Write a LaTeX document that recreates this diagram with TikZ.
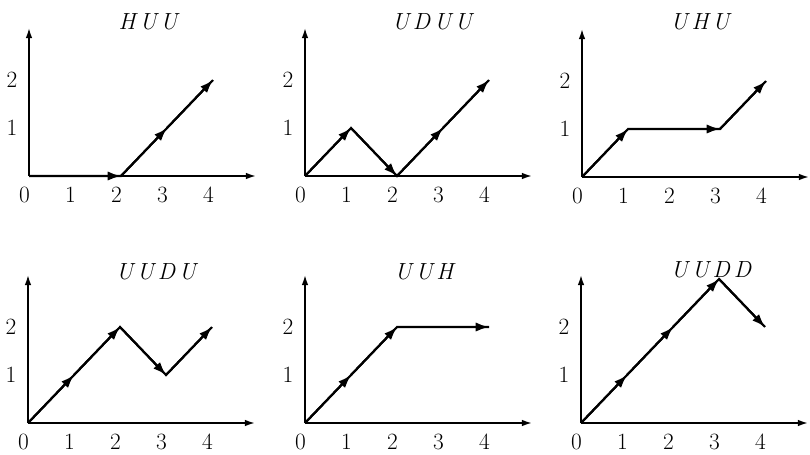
\documentclass[tikz,border=0pt]{standalone}
\usepackage{fontspec}
\usetikzlibrary{arrows.meta}
\tikzset{
  axis/.style={line width=1.1pt,-{Latex[length=7.5pt,width=5pt]}},
  pathline/.style={line width=1.6pt,line join=miter},
  seg/.style={line width=1.6pt,-{Latex[length=10pt,width=7pt]}},
  lab/.style={font=\fontsize{17.5}{20}\selectfont\addfontfeatures{FakeBold=2}, inner sep=0pt},
  ttl/.style={font=\fontsize{17.5}{20}\selectfont\itshape\addfontfeatures{FakeBold=2}, inner sep=0pt},
  unitgrid/.style={x=34.5pt,y=36pt}
}
\newcommand{\drawaxes}[1]{%
  \coordinate (#1o) at (0,0);
  \coordinate (#1xe) at (4.93,0);
  \coordinate (#1ye) at (0,3.08);
  \draw[axis] (#1o) -- (#1xe);
  \draw[axis] (#1o) -- (#1ye);
  \foreach \i in {0,...,4} {\node[lab] (#1x\i) at (\i-0.1,-0.39) {\i};}
  \foreach \j in {1,2} {\node[lab] (#1y\j) at (-0.37,\j) {\j};}
}
\begin{document}
\begin{tikzpicture}[x=0.75pt,y=-0.75pt]
\useasboundingbox (0,0) rectangle (810,454);
% Panel 1: HUU
\begin{scope}[shift={(29,176)},unitgrid]
  \drawaxes{a}
  \coordinate (a0) at (0,0);
  \coordinate (a1) at (2,0);
  \coordinate (a2) at (3,1);
  \coordinate (a3) at (4,2);
  \draw[pathline] (a0) -- (a1) -- (a2) -- (a3);
  \draw[seg] (a0) -- (a1);
  \draw[seg] (a1) -- (a2);
  \draw[seg] (a2) -- (a3);
\end{scope}
\node[ttl] (t1) at (148,22) {H\,U\,U};
% Panel 2: UDUU
\begin{scope}[shift={(305,176)},unitgrid]
  \drawaxes{b}
  \coordinate (b0) at (0,0);
  \coordinate (b1) at (1,1);
  \coordinate (b2) at (2,0);
  \coordinate (b3) at (3,1);
  \coordinate (b4) at (4,2);
  \draw[pathline] (b0) -- (b1) -- (b2) -- (b3) -- (b4);
  \draw[seg] (b0) -- (b1);
  \draw[seg] (b1) -- (b2);
  \draw[seg] (b2) -- (b3);
  \draw[seg] (b3) -- (b4);
\end{scope}
\node[ttl] (t2) at (432,22) {U\,D\,U\,U};
% Panel 3: UHU
\begin{scope}[shift={(582,177)},unitgrid]
  \drawaxes{c}
  \coordinate (c0) at (0,0);
  \coordinate (c1) at (1,1);
  \coordinate (c2) at (3,1);
  \coordinate (c3) at (4,2);
  \draw[pathline] (c0) -- (c1) -- (c2) -- (c3);
  \draw[seg] (c0) -- (c1);
  \draw[seg] (c1) -- (c2);
  \draw[seg] (c2) -- (c3);
\end{scope}
\node[ttl] (t3) at (700,22) {U\,H\,U};
% Panel 4: UUDU
\begin{scope}[shift={(28,423)},unitgrid]
  \drawaxes{d}
  \coordinate (d0) at (0,0);
  \coordinate (d1) at (1,1);
  \coordinate (d2) at (2,2);
  \coordinate (d3) at (3,1);
  \coordinate (d4) at (4,2);
  \draw[pathline] (d0) -- (d1) -- (d2) -- (d3) -- (d4);
  \draw[seg] (d0) -- (d1);
  \draw[seg] (d1) -- (d2);
  \draw[seg] (d2) -- (d3);
  \draw[seg] (d3) -- (d4);
\end{scope}
\node[ttl] (t4) at (156,272) {U\,U\,D\,U};
% Panel 5: UUH
\begin{scope}[shift={(305,423)},unitgrid]
  \drawaxes{e}
  \coordinate (e0) at (0,0);
  \coordinate (e1) at (1,1);
  \coordinate (e2) at (2,2);
  \coordinate (e3) at (4,2);
  \draw[pathline] (e0) -- (e1) -- (e2) -- (e3);
  \draw[seg] (e0) -- (e1);
  \draw[seg] (e1) -- (e2);
  \draw[seg] (e2) -- (e3);
\end{scope}
\node[ttl] (t5) at (424,272) {U\,U\,H};
% Panel 6: UUDD
\begin{scope}[shift={(581,423)},unitgrid]
  \drawaxes{f}
  \coordinate (f0) at (0,0);
  \coordinate (f1) at (1,1);
  \coordinate (f2) at (2,2);
  \coordinate (f3) at (3,3);
  \coordinate (f4) at (4,2);
  \draw[pathline] (f0) -- (f1) -- (f2) -- (f3) -- (f4);
  \draw[seg] (f0) -- (f1);
  \draw[seg] (f1) -- (f2);
  \draw[seg] (f2) -- (f3);
  \draw[seg] (f3) -- (f4);
\end{scope}
\node[ttl] (t6) at (711,270) {U\,U\,D\,D};
\end{tikzpicture}
\end{document}
